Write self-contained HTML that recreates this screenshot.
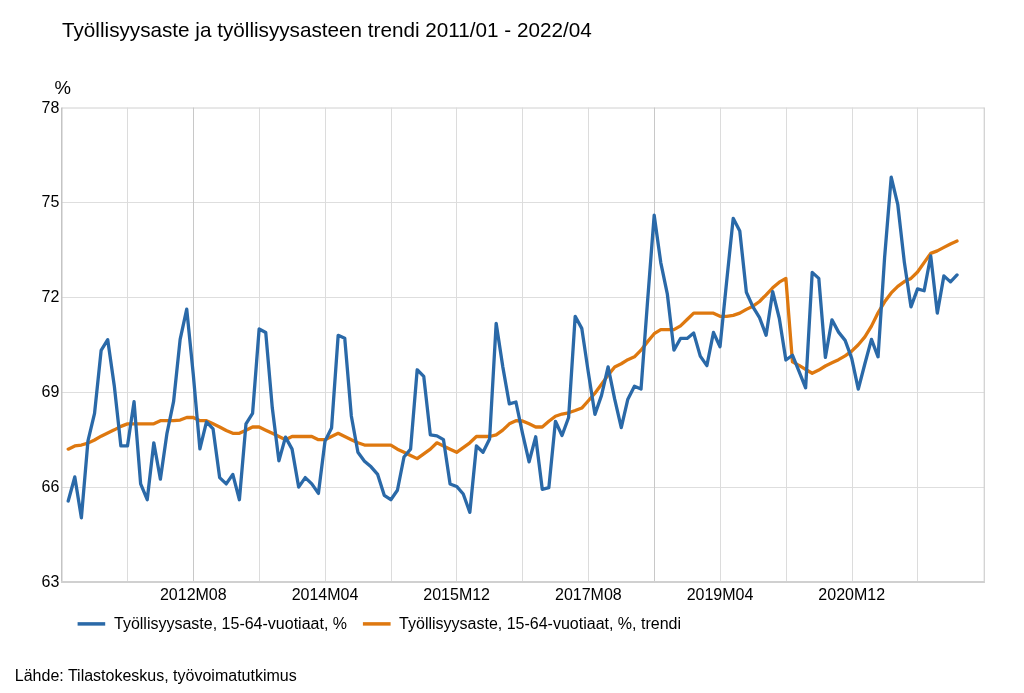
<!DOCTYPE html>
<html><head><meta charset="utf-8">
<style>
html,body{margin:0;padding:0;background:#fff;}
body{width:1024px;height:693px;overflow:hidden;position:relative;font-family:"Liberation Sans",sans-serif;color:#000;}
svg{position:absolute;left:0;top:0;will-change:transform;}
.t{font-family:"Liberation Sans",sans-serif;font-size:16px;fill:#000;}
.title{font-size:20.7px;}
.pct{font-size:18.5px;}
</style></head><body>
<svg width="1024" height="693" viewBox="0 0 1024 693">
<text x="62.0" y="36.6" class="t title">Työllisyysaste ja työllisyysasteen trendi 2011/01 - 2022/04</text>
<text x="54.6" y="93.7" class="t pct">%</text>
<line x1="62" x2="984.30" y1="202.5" y2="202.5" stroke="#dedede" stroke-width="1"/>
<line x1="62" x2="984.30" y1="297.5" y2="297.5" stroke="#dedede" stroke-width="1"/>
<line x1="62" x2="984.30" y1="392.5" y2="392.5" stroke="#dedede" stroke-width="1"/>
<line x1="62" x2="984.30" y1="487.5" y2="487.5" stroke="#dedede" stroke-width="1"/>
<line x1="62" x2="984.30" y1="108" y2="108" stroke="#d0d0d0" stroke-width="1"/>
<line x1="127.5" x2="127.5" y1="107.5" y2="581" stroke="#dcdcdc" stroke-width="1"/>
<line x1="193.5" x2="193.5" y1="107.5" y2="581" stroke="#c8c8c8" stroke-width="1"/>
<line x1="259.5" x2="259.5" y1="107.5" y2="581" stroke="#dcdcdc" stroke-width="1"/>
<line x1="325.5" x2="325.5" y1="107.5" y2="581" stroke="#dcdcdc" stroke-width="1"/>
<line x1="391.5" x2="391.5" y1="107.5" y2="581" stroke="#dcdcdc" stroke-width="1"/>
<line x1="456.5" x2="456.5" y1="107.5" y2="581" stroke="#dcdcdc" stroke-width="1"/>
<line x1="522.5" x2="522.5" y1="107.5" y2="581" stroke="#dcdcdc" stroke-width="1"/>
<line x1="588.5" x2="588.5" y1="107.5" y2="581" stroke="#dcdcdc" stroke-width="1"/>
<line x1="654.5" x2="654.5" y1="107.5" y2="581" stroke="#c8c8c8" stroke-width="1"/>
<line x1="720.5" x2="720.5" y1="107.5" y2="581" stroke="#dcdcdc" stroke-width="1"/>
<line x1="786.5" x2="786.5" y1="107.5" y2="581" stroke="#dcdcdc" stroke-width="1"/>
<line x1="852.5" x2="852.5" y1="107.5" y2="581" stroke="#dcdcdc" stroke-width="1"/>
<line x1="917.5" x2="917.5" y1="107.5" y2="581" stroke="#dcdcdc" stroke-width="1"/>
<line x1="984.3" x2="984.3" y1="107.5" y2="581" stroke="#d2d2d2" stroke-width="1.3"/>
<line x1="61.75" x2="61.75" y1="107.5" y2="582.9" stroke="#c4c4c4" stroke-width="1.5"/>
<line x1="61" x2="984.95" y1="581.9" y2="581.9" stroke="#d0d0d0" stroke-width="2"/>
<path d="M68.21,449.14 L74.80,445.97 L81.38,445.03 L87.97,443.13 L94.55,439.97 L101.13,436.17 L107.72,433.01 L114.30,429.85 L120.89,426.37 L127.47,423.84 L134.05,423.84 L140.64,423.84 L147.22,423.84 L153.81,423.84 L160.39,420.68 L166.97,420.68 L173.56,420.68 L180.14,420.05 L186.73,417.52 L193.31,417.52 L199.89,420.68 L206.48,420.68 L213.06,423.84 L219.65,427.00 L226.23,430.48 L232.81,433.33 L239.40,433.33 L245.98,430.16 L252.57,427.00 L259.15,427.00 L265.73,430.16 L272.32,433.33 L278.90,436.49 L285.49,439.65 L292.07,436.49 L298.65,436.49 L305.24,436.49 L311.82,436.49 L318.41,439.65 L324.99,439.65 L331.57,436.49 L338.16,433.33 L344.74,436.49 L351.33,439.65 L357.91,442.81 L364.49,445.03 L371.08,445.03 L377.66,445.03 L384.25,445.03 L390.83,445.03 L397.41,449.14 L404.00,452.30 L410.58,455.46 L417.17,458.62 L423.75,453.88 L430.33,449.14 L436.92,442.81 L443.50,445.97 L450.09,449.14 L456.67,452.30 L463.25,447.56 L469.84,442.81 L476.42,436.49 L483.01,436.49 L489.59,436.49 L496.17,434.91 L502.76,430.16 L509.34,423.84 L515.93,420.68 L522.51,420.99 L529.09,423.84 L535.68,427.00 L542.26,427.00 L548.85,421.31 L555.43,416.25 L562.01,414.04 L568.60,412.77 L575.18,410.56 L581.77,408.03 L588.35,400.76 L594.93,393.17 L601.52,384.31 L608.10,375.15 L614.69,366.92 L621.27,363.76 L627.85,359.65 L634.44,356.81 L641.02,350.17 L647.61,341.63 L654.19,333.72 L660.77,329.61 L667.36,329.61 L673.94,329.61 L680.53,325.82 L687.11,319.49 L693.69,313.17 L700.28,313.17 L706.86,313.17 L713.45,313.17 L720.03,316.33 L726.61,316.33 L733.20,315.38 L739.78,313.17 L746.37,309.38 L752.95,306.21 L759.53,301.47 L766.12,294.83 L772.70,287.87 L779.29,282.18 L785.87,278.39 L792.45,361.86 L799.04,365.34 L805.62,369.45 L812.21,373.25 L818.79,370.09 L825.37,365.98 L831.96,362.81 L838.54,359.65 L845.13,355.86 L851.71,351.11 L858.29,344.79 L864.88,336.88 L871.46,326.13 L878.05,312.85 L884.63,301.79 L891.21,292.93 L897.80,286.29 L904.38,281.55 L910.97,278.39 L917.55,272.06 L924.13,262.58 L930.72,253.41 L937.30,250.88 L943.89,247.40 L950.47,243.92 L957.05,241.08" fill="none" stroke="#de780f" stroke-width="3.3" stroke-linejoin="round" stroke-linecap="round"/>
<path d="M68.21,500.99 L74.80,476.96 L81.38,517.75 L87.97,440.91 L94.55,413.41 L101.13,350.48 L107.72,339.73 L114.30,385.90 L120.89,445.97 L127.47,445.97 L134.05,401.71 L140.64,483.92 L147.22,499.73 L153.81,442.81 L160.39,479.18 L166.97,433.33 L173.56,401.71 L180.14,339.41 L186.73,309.06 L193.31,374.83 L199.89,448.82 L206.48,421.94 L213.06,428.90 L219.65,477.59 L226.23,483.92 L232.81,474.43 L239.40,499.73 L245.98,423.84 L252.57,413.41 L259.15,328.98 L265.73,332.46 L272.32,408.03 L278.90,460.84 L285.49,437.12 L292.07,449.14 L298.65,487.08 L305.24,477.59 L311.82,483.92 L318.41,493.40 L324.99,441.23 L331.57,427.95 L338.16,335.30 L344.74,338.15 L351.33,415.94 L357.91,452.30 L364.49,461.15 L371.08,466.84 L377.66,474.43 L384.25,495.30 L390.83,499.73 L397.41,490.24 L404.00,457.04 L410.58,449.14 L417.17,369.77 L423.75,376.41 L430.33,434.91 L436.92,435.86 L443.50,439.65 L450.09,483.92 L456.67,486.45 L463.25,494.04 L469.84,512.38 L476.42,445.97 L483.01,452.30 L489.59,439.02 L496.17,323.29 L502.76,366.61 L509.34,403.92 L515.93,402.02 L522.51,433.33 L529.09,461.78 L535.68,436.80 L542.26,489.29 L548.85,487.71 L555.43,421.31 L562.01,435.54 L568.60,417.52 L575.18,316.33 L581.77,328.35 L588.35,372.62 L594.93,414.35 L601.52,395.38 L608.10,366.92 L614.69,399.18 L621.27,427.63 L627.85,399.18 L634.44,386.21 L641.02,389.06 L647.61,300.52 L654.19,215.15 L660.77,262.58 L667.36,294.20 L673.94,350.17 L680.53,338.47 L687.11,338.47 L693.69,333.09 L700.28,356.17 L706.86,365.66 L713.45,332.46 L720.03,346.69 L726.61,281.87 L733.20,218.31 L739.78,230.96 L746.37,292.30 L752.95,306.85 L759.53,317.60 L766.12,335.30 L772.70,291.67 L779.29,318.23 L785.87,359.97 L792.45,355.22 L799.04,371.35 L805.62,387.79 L812.21,272.38 L818.79,278.39 L825.37,357.44 L831.96,319.81 L838.54,332.14 L845.13,340.36 L851.71,358.39 L858.29,389.06 L864.88,363.76 L871.46,339.41 L878.05,356.81 L884.63,257.20 L891.21,177.20 L897.80,204.71 L904.38,262.58 L910.97,306.85 L917.55,288.82 L924.13,290.72 L930.72,255.94 L937.30,313.17 L943.89,275.86 L950.47,281.87 L957.05,274.91" fill="none" stroke="#2a69a8" stroke-width="3.3" stroke-linejoin="round" stroke-linecap="round"/>
<text x="59.4" y="112.60" text-anchor="end" class="t">78</text>
<text x="59.4" y="207.10" text-anchor="end" class="t">75</text>
<text x="59.4" y="302.10" text-anchor="end" class="t">72</text>
<text x="59.4" y="397.10" text-anchor="end" class="t">69</text>
<text x="59.4" y="492.10" text-anchor="end" class="t">66</text>
<text x="59.4" y="586.50" text-anchor="end" class="t">63</text>
<text x="193.31" y="600.2" text-anchor="middle" class="t">2012M08</text>
<text x="324.99" y="600.2" text-anchor="middle" class="t">2014M04</text>
<text x="456.67" y="600.2" text-anchor="middle" class="t">2015M12</text>
<text x="588.35" y="600.2" text-anchor="middle" class="t">2017M08</text>
<text x="720.03" y="600.2" text-anchor="middle" class="t">2019M04</text>
<text x="851.71" y="600.2" text-anchor="middle" class="t">2020M12</text>
<line x1="77.6" x2="105.2" y1="623.9" y2="623.9" stroke="#2a69a8" stroke-width="3.5"/>
<text x="114" y="628.7" class="t">Työllisyysaste, 15-64-vuotiaat, %</text>
<line x1="362.9" x2="390.6" y1="623.9" y2="623.9" stroke="#de780f" stroke-width="3.5"/>
<text x="399.1" y="628.7" class="t">Työllisyysaste, 15-64-vuotiaat, %, trendi</text>
<text x="14.8" y="680.9" class="t">Lähde: Tilastokeskus, työvoimatutkimus</text>
</svg>
</body></html>
